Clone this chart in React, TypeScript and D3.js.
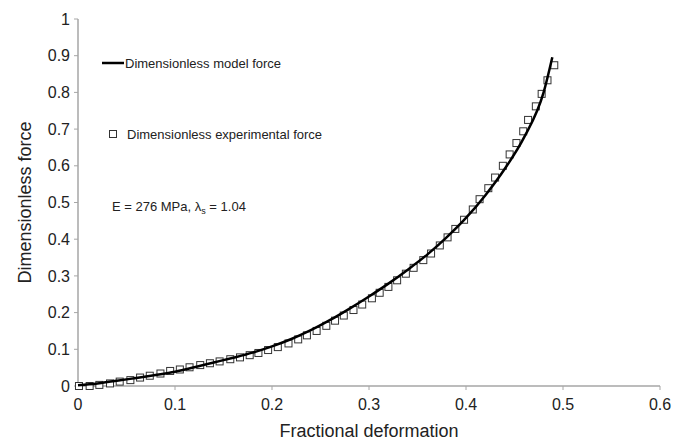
import * as d3 from 'd3'

const modelX = [0, 0.02, 0.04, 0.06, 0.08, 0.1, 0.12, 0.14, 0.16, 0.18, 0.2, 0.22, 0.24, 0.26, 0.28, 0.3, 0.32, 0.34, 0.36, 0.38, 0.4, 0.42, 0.44, 0.46, 0.48, 0.489]
const modelY = [0.002, 0.007, 0.014, 0.022, 0.03, 0.039, 0.051, 0.064, 0.077, 0.091, 0.108, 0.128, 0.152, 0.18, 0.211, 0.244, 0.279, 0.317, 0.358, 0.405, 0.458, 0.52, 0.592, 0.678, 0.8, 0.896]

const expX = [0.001, 0.012, 0.022, 0.033, 0.043, 0.054, 0.064, 0.074, 0.085, 0.095, 0.105, 0.115, 0.126, 0.136, 0.146, 0.157, 0.167, 0.177, 0.186, 0.196, 0.206, 0.217, 0.227, 0.236, 0.246, 0.256, 0.265, 0.274, 0.284, 0.293, 0.303, 0.311, 0.32, 0.329, 0.338, 0.346, 0.356, 0.364, 0.373, 0.381, 0.389, 0.398, 0.407, 0.414, 0.423, 0.43, 0.438, 0.445, 0.452, 0.459, 0.464, 0.472, 0.478, 0.484, 0.491]
const expY = [0, 0, 0.003, 0.007, 0.012, 0.016, 0.023, 0.028, 0.034, 0.041, 0.045, 0.051, 0.057, 0.062, 0.067, 0.073, 0.078, 0.084, 0.09, 0.098, 0.106, 0.116, 0.127, 0.138, 0.15, 0.164, 0.178, 0.192, 0.207, 0.222, 0.239, 0.254, 0.27, 0.288, 0.306, 0.322, 0.343, 0.361, 0.383, 0.405, 0.428, 0.453, 0.481, 0.509, 0.539, 0.568, 0.6, 0.631, 0.662, 0.694, 0.725, 0.762, 0.796, 0.833, 0.874]

const xTicks = [0, 0.1, 0.2, 0.3, 0.4, 0.5, 0.6]
const yTicks = [0, 0.1, 0.2, 0.3, 0.4, 0.5, 0.6, 0.7, 0.8, 0.9, 1]

const font = 'Liberation Sans, Arial, sans-serif'
const axisColor = '#a6a6a6'

export default function App() {
  const width = 684
  const height = 443
  const margin = { top: 19, right: 24, bottom: 57, left: 78 }

  const x = d3.scaleLinear().domain([0, 0.6]).range([margin.left, width - margin.right])
  const y = d3.scaleLinear().domain([0, 1]).range([height - margin.bottom, margin.top])

  const model = modelX.map((v, i) => [v, modelY[i]] as [number, number])
  const line = d3
    .line<[number, number]>()
    .x(d => x(d[0]))
    .y(d => y(d[1]))
    .curve(d3.curveMonotoneX)

  const sq = 7

  return (
    <>
      <style>{'body{margin:0}'}</style>
      <svg width={width} height={height} style={{ display: 'block', background: '#fff' }} fontFamily={font}>
        {/* axes */}
        <line x1={x(0)} x2={x(0.6)} y1={y(0)} y2={y(0)} stroke={axisColor} strokeWidth={1.5} />
        <line x1={x(0)} x2={x(0)} y1={y(0)} y2={y(1)} stroke={axisColor} strokeWidth={1.5} />
        {xTicks.map(t => (
          <g key={'x' + t}>
            <line x1={x(t)} x2={x(t)} y1={y(0)} y2={y(0) + 4} stroke={axisColor} strokeWidth={1} />
            <text x={x(t)} y={410} textAnchor="middle" fontSize={16} fill="#222">
              {t}
            </text>
          </g>
        ))}
        {yTicks.map(t => (
          <g key={'y' + t}>
            <line x1={x(0) - 4} x2={x(0)} y1={y(t)} y2={y(t)} stroke={axisColor} strokeWidth={1} />
            <text x={70} y={y(t)} dy="0.35em" textAnchor="end" fontSize={16} fill="#222">
              {t}
            </text>
          </g>
        ))}

        {/* experimental squares */}
        {expX.map((v, i) => (
          <rect
            key={'e' + i}
            x={x(v) - sq / 2}
            y={y(expY[i]) - sq / 2}
            width={sq}
            height={sq}
            fill="#fff"
            stroke="#333"
            strokeWidth={1}
          />
        ))}

        {/* model line */}
        <path d={line(model) ?? ''} fill="none" stroke="#000" strokeWidth={2.5} />

        {/* legend */}
        <line x1={102} x2={124} y1={63} y2={63} stroke="#000" strokeWidth={2.5} />
        <text x={125} y={63} dy="0.35em" fontSize={13} fill="#222">
          Dimensionless model force
        </text>
        <rect x={113 - sq / 2} y={134 - sq / 2} width={sq} height={sq} fill="#fff" stroke="#333" strokeWidth={1} />
        <text x={127} y={134} dy="0.35em" fontSize={13} fill="#222">
          Dimensionless experimental force
        </text>

        <text x={112} y={206} dy="0.35em" fontSize={13} fill="#222">
          E = 276 MPa, λ
          <tspan fontSize={9} dy="3">s</tspan>
          <tspan dy="-3"> = 1.04</tspan>
        </text>

        {/* axis titles */}
        <text x={(x(0) + x(0.6)) / 2} y={437} textAnchor="middle" fontSize={18} fill="#222">
          Fractional deformation
        </text>
        <text
          transform={`translate(25, ${(y(0) + y(1)) / 2}) rotate(-90)`}
          textAnchor="middle"
          dy="0.35em"
          fontSize={18}
          fill="#222"
        >
          Dimensionless force
        </text>
      </svg>
    </>
  )
}
